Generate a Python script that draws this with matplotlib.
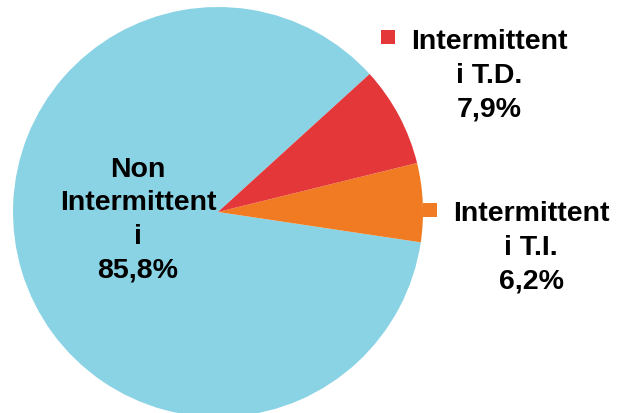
import matplotlib.pyplot as plt
from matplotlib.patches import Rectangle

# slice data (counterclockwise from the top edge of the red slice)
labels = ["Non\nIntermittent\ni", "Intermittent\ni T.I.", "Intermittent\ni T.D."]
values = [85.8, 6.2, 7.9]
pct_text = ["85,8%", "6,2%", "7,9%"]
colors = ["#8AD3E4", "#F07B22", "#E3373A"]

plt.rcParams['font.family'] = ['Liberation Sans', 'DejaVu Sans']

fig = plt.figure(figsize=(6.18, 4.14), dpi=100)
ax = fig.add_axes([0, 0, 1, 1])

ax.pie(values, colors=colors, startangle=42.3, counterclock=True,
       center=(218, 201), radius=205, frame=True,
       wedgeprops=dict(linewidth=0))
ax.set_xlim(0, 618)
ax.set_ylim(0, 414)
ax.set_aspect('equal')
ax.axis('off')

txt = dict(ha='center', va='center', fontsize=20.5, fontweight='bold',
           color='black', linespacing=1.38)

# label inside the big slice
ax.text(138, 194, f"{labels[0]}\n{pct_text[0]}", **txt)

# legend-style labels with square markers
ax.text(489, 338, f"{labels[2]}\n{pct_text[2]}", **txt)
ax.add_patch(Rectangle((381, 414 - 45), 14, 14, color=colors[2], lw=0))

ax.text(531, 166, f"{labels[1]}\n{pct_text[1]}", **txt)
ax.add_patch(Rectangle((423, 414 - 218), 14, 14, color=colors[1], lw=0))

fig.savefig("out.png", dpi=100)
